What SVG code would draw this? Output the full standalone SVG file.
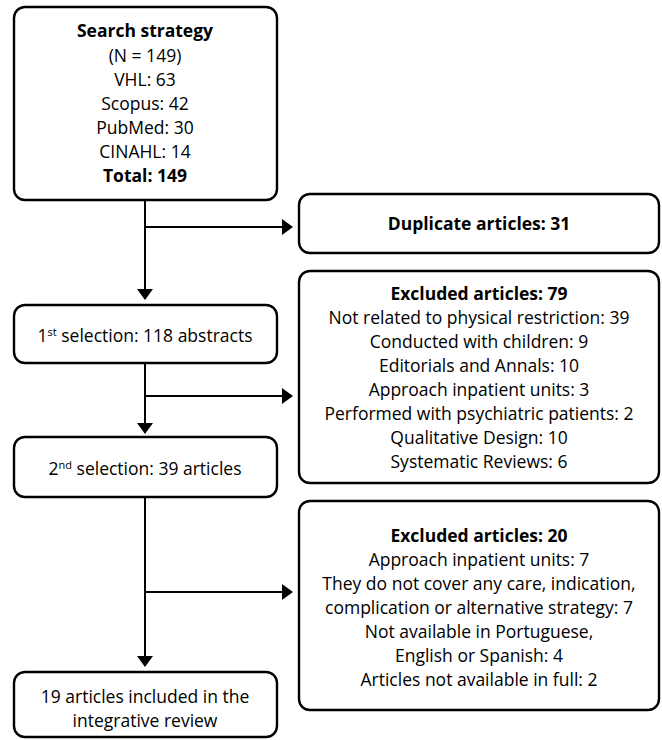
<svg xmlns="http://www.w3.org/2000/svg" width="662" height="740" viewBox="0 0 662 740">
<style>
.box{fill:#fff;stroke:#000;stroke-width:2.4}
.t{font-family:"Open Sans","Noto Sans","Liberation Sans",sans-serif;font-size:17.5px;fill:#000;text-anchor:middle}
.b{font-weight:bold}
.c{fill:none;stroke:#000;stroke-width:2}
</style>
<defs>
<marker id="arr" viewBox="0 0 11 16" refX="7" refY="8" markerWidth="11" markerHeight="16" markerUnits="userSpaceOnUse" orient="auto">
<path d="M0,0 L11,8 L0,16 Z" fill="#000"/>
</marker>
</defs>
<rect width="662" height="740" fill="#fff"/>
<g id="connectors">
<path class="c" d="M145,200 V296" marker-end="url(#arr)"/>
<path class="c" d="M145,227 H289" marker-end="url(#arr)"/>
<path class="c" d="M145,363 V430" marker-end="url(#arr)"/>
<path class="c" d="M145,396 H289" marker-end="url(#arr)"/>
<path class="c" d="M145,497 V663" marker-end="url(#arr)"/>
<path class="c" d="M145,592 H289" marker-end="url(#arr)"/>
</g>
<g id="search">
<rect class="box" x="14" y="7" width="263" height="193" rx="11"/>
<text class="t b" x="145" y="37">Search strategy</text>
<text class="t" x="145" y="62">(N = 149)</text>
<text class="t" x="145" y="86">VHL: 63</text>
<text class="t" x="145" y="110">Scopus: 42</text>
<text class="t" x="145" y="134">PubMed: 30</text>
<text class="t" x="145" y="158">CINAHL: 14</text>
<text class="t b" x="145" y="182">Total: 149</text>
</g>
<g id="duplicates">
<rect class="box" x="299" y="194" width="360" height="59" rx="11"/>
<text class="t b" x="479" y="230">Duplicate articles: 31</text>
</g>
<g id="selection1">
<rect class="box" x="14" y="305" width="263" height="58" rx="11"/>
<text class="t" x="145" y="342">1<tspan font-size="11" dy="-6">st</tspan><tspan dy="6"> selection: 118 abstracts</tspan></text>
</g>
<g id="excluded79">
<rect class="box" x="299" y="271" width="360" height="212" rx="11"/>
<text class="t b" x="479" y="300">Excluded articles: 79</text>
<text class="t" x="479" y="324">Not related to physical restriction: 39</text>
<text class="t" x="479" y="348">Conducted with children: 9</text>
<text class="t" x="479" y="372">Editorials and Annals: 10</text>
<text class="t" x="479" y="396">Approach inpatient units: 3</text>
<text class="t" x="479" y="420">Performed with psychiatric patients: 2</text>
<text class="t" x="479" y="444">Qualitative Design: 10</text>
<text class="t" x="479" y="468">Systematic Reviews: 6</text>
</g>
<g id="selection2">
<rect class="box" x="14" y="437" width="263" height="60" rx="11"/>
<text class="t" x="145" y="475">2<tspan font-size="11" dy="-6">nd</tspan><tspan dy="6"> selection: 39 articles</tspan></text>
</g>
<g id="excluded20">
<rect class="box" x="299" y="501" width="360" height="209" rx="11"/>
<text class="t b" x="479" y="542">Excluded articles: 20</text>
<text class="t" x="479" y="566">Approach inpatient units: 7</text>
<text class="t" x="479" y="590">They do not cover any care, indication,</text>
<text class="t" x="479" y="614">complication or alternative strategy: 7</text>
<text class="t" x="479" y="638">Not available in Portuguese,</text>
<text class="t" x="479" y="662">English or Spanish: 4</text>
<text class="t" x="479" y="686">Articles not available in full: 2</text>
</g>
<g id="included">
<rect class="box" x="14" y="672" width="263" height="65" rx="11"/>
<text class="t" x="145" y="703">19 articles included in the</text>
<text class="t" x="145" y="727">integrative review</text>
</g>
</svg>
